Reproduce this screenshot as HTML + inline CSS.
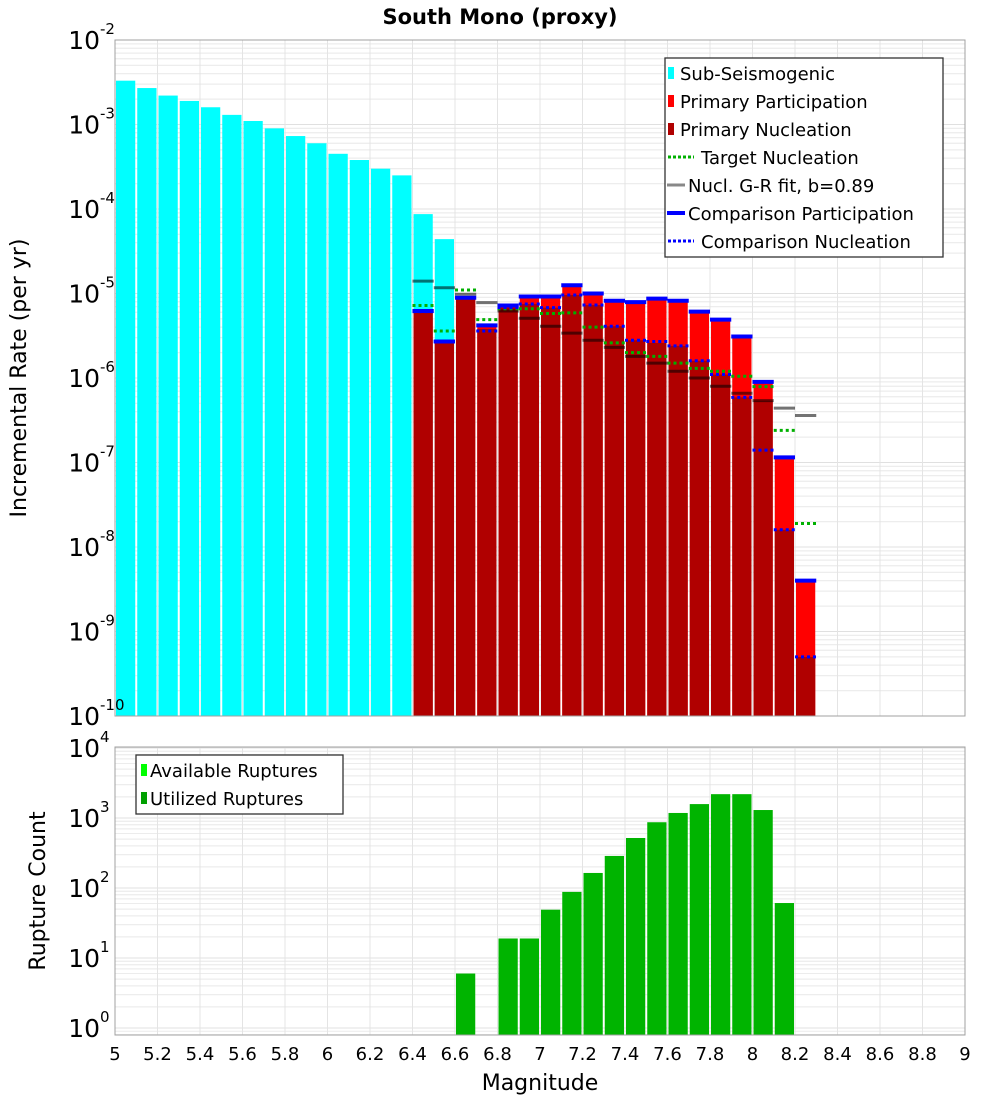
<!DOCTYPE html>
<html><head><meta charset="utf-8"><style>
body{margin:0;background:#fff;}
svg{display:block;font-family:"DejaVu Sans","Liberation Sans",sans-serif;}
</style></head><body>
<svg id="chart" width="1000" height="1100" viewBox="0 0 1000 1100"></svg>
<script>
// ---- data ----
const subMags = [5.05,5.15,5.25,5.35,5.45,5.55,5.65,5.75,5.85,5.95,6.05,6.15,6.25,6.35,6.45,6.55];
const subRates = [3.3e-3,2.7e-3,2.2e-3,1.9e-3,1.6e-3,1.3e-3,1.1e-3,9.0e-4,7.3e-4,6.0e-4,4.5e-4,3.8e-4,3.0e-4,2.5e-4,8.7e-5,4.4e-5];
const primMags = [6.45,6.55,6.65,6.75,6.85,6.95,7.05,7.15,7.25,7.35,7.45,7.55,7.65,7.75,7.85,7.95,8.05,8.15,8.25];
const partRates = [6.2e-6,2.8e-6,9.1e-6,4.3e-6,7.3e-6,9.3e-6,9.3e-6,1.26e-5,1.0e-5,8.3e-6,8.0e-6,8.8e-6,8.3e-6,6.2e-6,5.0e-6,3.2e-6,9.1e-7,1.17e-7,4.1e-9];
const nuclRates = [6.1e-6,2.8e-6,9.0e-6,3.8e-6,6.8e-6,7.5e-6,6.8e-6,9.6e-6,7.3e-6,4.1e-6,2.8e-6,2.6e-6,2.4e-6,1.6e-6,1.1e-6,5.9e-7,5.4e-7,1.6e-8,5.0e-10];
const grMags = [6.45,6.55,6.65,6.75,6.85,6.95,7.05,7.15,7.25,7.35,7.45,7.55,7.65,7.75,7.85,7.95,8.05,8.15,8.25];
const grRates = [1.4e-5,1.17e-5,9.8e-6,7.8e-6,6.2e-6,5.1e-6,4.1e-6,3.4e-6,2.8e-6,2.3e-6,1.8e-6,1.5e-6,1.2e-6,1.0e-6,8.0e-7,6.6e-7,5.4e-7,4.4e-7,3.6e-7];
const targetRates = [7.2e-6,3.6e-6,1.1e-5,4.9e-6,6.6e-6,6.6e-6,5.8e-6,5.9e-6,4.0e-6,2.6e-6,2.0e-6,1.8e-6,1.5e-6,1.3e-6,1.2e-6,1.05e-6,7.9e-7,2.4e-7,1.9e-8];
const compPartRates = [6.2e-6,2.7e-6,8.9e-6,4.2e-6,7.2e-6,9.2e-6,9.2e-6,1.25e-5,1.0e-5,8.2e-6,7.9e-6,8.7e-6,8.2e-6,6.1e-6,4.9e-6,3.1e-6,9.0e-7,1.15e-7,4.0e-9];
const compNuclRates = [6.1e-6,2.7e-6,8.9e-6,3.6e-6,6.8e-6,7.5e-6,6.8e-6,9.6e-6,7.3e-6,4.1e-6,2.8e-6,2.7e-6,2.4e-6,1.6e-6,1.1e-6,5.9e-7,1.4e-7,1.6e-8,5.0e-10];
const countMags = [6.65,6.85,6.95,7.05,7.15,7.25,7.35,7.45,7.55,7.65,7.75,7.85,7.95,8.05,8.15];
const countVals = [6,19,19,49,88,164,287,518,870,1180,1580,2190,2190,1300,61];
const xTicks = [5,5.2,5.4,5.6,5.8,6,6.2,6.4,6.6,6.8,7,7.2,7.4,7.6,7.8,8,8.2,8.4,8.6,8.8,9];
const topExps = [-2,-3,-4,-5,-6,-7,-8,-9,-10];
const botExps = [4,3,2,1,0];

// ---- layout ----
const NS="http://www.w3.org/2000/svg";
const svg=document.getElementById('chart');
const L=115,R=965,T1=40,B1=716,T2=747,B2=1035;
const x=m=>L+(m-5)*(R-L)/4;
const y1=v=>T1+(-2-Math.log10(v))*(B1-T1)/8;
const y2=v=>1028-Math.log10(v)*70;
const BW=(R-L)/40;
function el(tag,attrs,parent){const e=document.createElementNS(NS,tag);for(const k in attrs)e.setAttribute(k,attrs[k]);(parent||svg).appendChild(e);return e;}

// title
const title=el('text',{x:500,y:24,'text-anchor':'middle','font-size':21,'font-weight':'bold'});


title.textContent='South Mono (proxy)';

function panel(top,bot,yf,exps,name){
  const g=el('g',{});
  
  
  el('rect',{x:L,y:top,width:R-L,height:bot-top,fill:'#fff'},g);
  // minor log grid
  for(let i=0;i<exps.length;i++){
    const e=exps[i];
    for(let k=2;k<10;k++){const yy=yf(k*Math.pow(10,e));if(yy>top&&yy<bot)el('line',{x1:L,x2:R,y1:yy,y2:yy,stroke:'#ececec','stroke-width':1},g);}
    const yy=yf(Math.pow(10,e));
    if(yy>=top&&yy<=bot)el('line',{x1:L,x2:R,y1:yy,y2:yy,stroke:'#e0e0e0','stroke-width':1},g);
  }
  for(let k=exps.length-1;k>=0;k--){const e=exps[k]-1;for(let j=2;j<10;j++){const yy=yf(j*Math.pow(10,e));if(yy>top&&yy<bot)el('line',{x1:L,x2:R,y1:yy,y2:yy,stroke:'#ececec','stroke-width':1},g);}}
  xTicks.forEach(t=>el('line',{x1:x(t),x2:x(t),y1:top,y2:bot,stroke:'#e4e4e4','stroke-width':1},g));
  return g;
}
const g1=panel(T1,B1,y1,topExps,'rate-plot');
const g2=panel(T2,B2,y2,botExps,'count-plot');

// sub-seismogenic bars
subMags.forEach((m,i)=>{
  const r=el('rect',{x:x(m)-BW/2+1,y:y1(subRates[i]),width:BW-2,height:B1-y1(subRates[i]),fill:'#00ffff'});
  
  
});
primMags.forEach((m,i)=>{
  const r=el('rect',{x:x(m)-BW/2+1,y:y1(partRates[i]),width:BW-2,height:B1-y1(partRates[i]),fill:'#ff0000'});
  
  
  const n=el('rect',{x:x(m)-BW/2+1,y:y1(nuclRates[i]),width:BW-2,height:B1-y1(nuclRates[i]),fill:'#b00000'});
  
  
});
function seg(mags,vals,stroke,w,dash,name){
  mags.forEach((m,i)=>{
    const a={x1:x(m)-BW/2,x2:x(m)+BW/2,y1:y1(vals[i]),y2:y1(vals[i]),stroke:stroke,'stroke-width':w,'stroke-opacity':name==='gr-fit-segment'?0.55:1};
    if(dash)a['stroke-dasharray']=dash;
    const s=el('line',a);
    
    
  });
}
seg(grMags,grRates,'#000000',3,null,'gr-fit-segment');
seg(primMags,targetRates,'#00b000',3,'3,3','target-nucleation-segment');
seg(primMags,compPartRates,'#0000ff',4,null,'comparison-participation-segment');
seg(primMags,compNuclRates,'#0000ff',3,'3,3','comparison-nucleation-segment');

countMags.forEach((m,i)=>{
  const r=el('rect',{x:x(m)-BW/2+1,y:y2(countVals[i]),width:BW-2,height:B2-y2(countVals[i]),fill:'#00b400'});
  
  
});

// frames
el('rect',{x:L,y:T1,width:R-L,height:B1-T1,fill:'none',stroke:'#a0a0a0'});
el('rect',{x:L,y:T2,width:R-L,height:B2-T2,fill:'none',stroke:'#a0a0a0'});

// y tick labels
function ylab(yy,e,name){
  const t=el('text',{x:100,y:yy+9,'text-anchor':'end','font-size':25});
  
  
  t.textContent='10';
  const s=el('text',{x:100,y:yy-6,'text-anchor':'start','font-size':15});
  s.textContent=String(e);
}
topExps.forEach(e=>ylab(y1(Math.pow(10,e)),e,'y-tick-label'));
botExps.forEach(e=>ylab(y2(Math.pow(10,e)),e,'count-y-tick-label'));
xTicks.forEach(t=>{
  const tx=el('text',{x:x(t),y:1060,'text-anchor':'middle','font-size':18});
  
  
  tx.textContent=String(t);
});
const xt=el('text',{x:540,y:1090,'text-anchor':'middle','font-size':22});


xt.textContent='Magnitude';
const yt=el('text',{x:0,y:0,'text-anchor':'middle','font-size':22,transform:'translate(26,378) rotate(-90)'});


yt.textContent='Incremental Rate (per yr)';
const yt2=el('text',{x:0,y:0,'text-anchor':'middle','font-size':22,transform:'translate(45,891) rotate(-90)'});


yt2.textContent='Rupture Count';

// legends
const lg=el('g',{});


el('rect',{x:665,y:58,width:278,height:199,fill:'#fff',stroke:'#333','stroke-width':1.3},lg);
const items=[['Sub-Seismogenic','box','#00ffff',680],['Primary Participation','box','#ff0000',680],['Primary Nucleation','box','#b00000',680],['Target Nucleation','dot','#00b000',701],['Nucl. G-R fit, b=0.89','line','#888888',688],['Comparison Participation','line','#0000ff',688],['Comparison Nucleation','dot','#0000ff',701]];
items.forEach((it,i)=>{
  const yy=73+i*28;
  if(it[1]==='box')el('rect',{x:668,y:yy-6,width:6,height:12,fill:it[2]},lg);
  else if(it[1]==='line')el('line',{x1:667,x2:685,y1:yy,y2:yy,stroke:it[2],'stroke-width':it[2]==='#0000ff'?4:3},lg);
  else el('line',{x1:668,x2:694,y1:yy,y2:yy,stroke:it[2],'stroke-width':3,'stroke-dasharray':'3,2'},lg);
  const t=el('text',{x:it[3],y:yy+7,'font-size':18},lg);
  
  
  t.textContent=it[0];
});
const lg2=el('g',{});


el('rect',{x:136,y:755,width:207,height:59,fill:'#fff',stroke:'#333','stroke-width':1.3},lg2);
[['Available Ruptures','#00ff00'],['Utilized Ruptures','#00a000']].forEach((it,i)=>{
  const yy=770+i*28;
  el('rect',{x:141,y:yy-6,width:6,height:12,fill:it[1]},lg2);
  const t=el('text',{x:150,y:yy+7,'font-size':18},lg2);
  
  
  t.textContent=it[0];
});
</script>
</body></html>
